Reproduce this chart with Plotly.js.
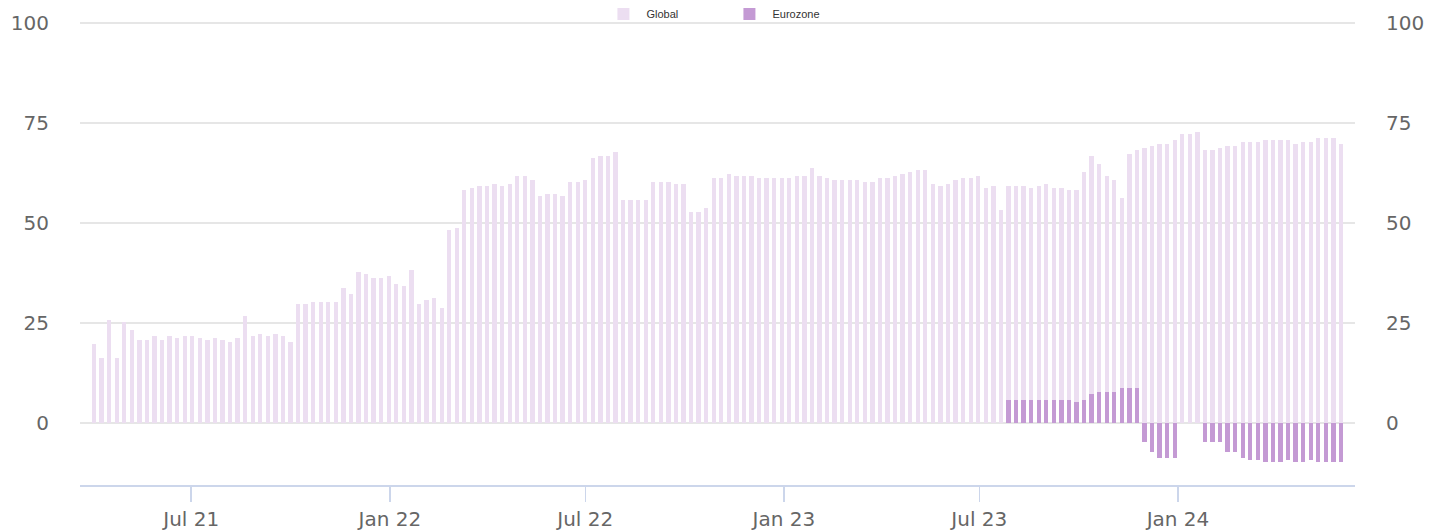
<!DOCTYPE html>
<html>
<head>
<meta charset="utf-8">
<script src="https://cdn.plot.ly/plotly-3.0.1.min.js"></script>
<style>html,body{margin:0;padding:0;background:#fff;}#chart{width:1444px;height:531px;}</style>
</head>
<body>
<div id="chart"></div>
<script>
// Weekly observations, first week ending Fri 2 Apr 2021
const firstWeek = '2021-04-02';
const seriesNames = ['Global', 'Eurozone'];

const globalValues = [
  19.8, 16.3, 25.8, 16.3, 25.3, 23.3, 20.8, 20.8, 21.8, 20.8,
  21.8, 21.3, 21.8, 21.8, 21.3, 20.8, 21.3, 20.8, 20.3, 21.3,
  26.8, 21.8, 22.3, 21.8, 22.3, 21.8, 20.3, 29.8, 29.8, 30.3,
  30.3, 30.3, 30.3, 33.8, 32.3, 37.8, 37.3, 36.3, 36.3, 36.8,
  34.8, 34.3, 38.3, 29.8, 30.8, 31.3, 28.8, 48.3, 48.8, 58.3,
  58.8, 59.3, 59.3, 59.8, 59.3, 59.8, 61.8, 61.8, 60.8, 56.8,
  57.3, 57.3, 56.8, 60.3, 60.3, 60.8, 66.3, 66.8, 66.8, 67.8,
  55.8, 55.8, 55.8, 55.8, 60.3, 60.3, 60.3, 59.8, 59.8, 52.8,
  52.8, 53.8, 61.3, 61.3, 62.3, 61.8, 61.8, 61.8, 61.3, 61.3,
  61.3, 61.3, 61.3, 61.8, 61.8, 63.8, 61.8, 61.3, 60.8, 60.8,
  60.8, 60.8, 60.3, 60.3, 61.3, 61.3, 61.8, 62.3, 62.8, 63.3,
  63.3, 59.8, 59.3, 59.8, 60.8, 61.3, 61.3, 61.8, 58.8, 59.3,
  53.3, 59.3, 59.3, 59.3, 58.8, 59.3, 59.8, 58.8, 58.8, 58.3,
  58.3, 62.8, 66.8, 64.8, 61.8, 60.8, 56.3, 67.3, 68.3, 68.8,
  69.3, 69.8, 69.8, 70.8, 72.3, 72.3, 72.8, 68.3, 68.3, 68.8,
  69.3, 69.3, 70.3, 70.3, 70.3, 70.8, 70.8, 70.8, 70.8, 69.8,
  70.3, 70.3, 71.3, 71.3, 71.3, 69.8
];

const eurozoneValues = [
  null, null, null, null, null, null, null, null, null, null,
  null, null, null, null, null, null, null, null, null, null,
  null, null, null, null, null, null, null, null, null, null,
  null, null, null, null, null, null, null, null, null, null,
  null, null, null, null, null, null, null, null, null, null,
  null, null, null, null, null, null, null, null, null, null,
  null, null, null, null, null, null, null, null, null, null,
  null, null, null, null, null, null, null, null, null, null,
  null, null, null, null, null, null, null, null, null, null,
  null, null, null, null, null, null, null, null, null, null,
  null, null, null, null, null, null, null, null, null, null,
  null, null, null, null, null, null, null, null, null, null,
  null, 5.8, 5.8, 5.8, 5.8, 5.8, 5.8, 5.8, 5.8, 5.8,
  5.3, 5.8, 7.3, 7.8, 7.8, 7.8, 8.8, 8.8, 8.8, -4.8,
  -7.3, -8.8, -8.8, -8.8, null, null, null, -4.8, -4.8, -4.8,
  -7.3, -7.3, -8.8, -9.3, -9.3, -9.8, -9.8, -9.8, -9.3, -9.8,
  -9.8, -9.3, -9.8, -9.8, -9.8, -9.8
];

const yTicks = [0, 25, 50, 75, 100];

const DAY = 86400000;
const start = Date.parse(firstWeek + 'T00:00:00Z');
const weeks = globalValues.map((_, i) => new Date(start + i * 7 * DAY).toISOString().slice(0, 10));

const barWidth = 4.0 * DAY;

const traces = [
  {
    type: 'bar', name: seriesNames[0], x: weeks, y: globalValues,
    width: barWidth, yaxis: 'y',
    marker: {color: '#ecdef1', line: {width: 0}},
    hoverinfo: 'x+y'
  },
  {
    type: 'bar', name: seriesNames[1], x: weeks, y: eurozoneValues,
    width: barWidth, yaxis: 'y2',
    marker: {color: '#c49ad4', line: {width: 0}},
    hoverinfo: 'x+y'
  }
];

const yRange = [-15.5, 100.5];
const axisFont = {family: 'DejaVu Sans, sans-serif', size: 20, color: '#666666'};

const layout = {
  width: 1444, height: 531,
  margin: {l: 80, r: 89, t: 21, b: 46, pad: 0, autoexpand: false},
  paper_bgcolor: '#ffffff', plot_bgcolor: '#ffffff',
  barmode: 'overlay',
  bargap: 0,
  showlegend: true,
  legend: {
    orientation: 'h', xref: 'paper', yref: 'container',
    x: 0.507, xanchor: 'center', y: 0.9736, yanchor: 'middle',
    bgcolor: 'rgba(0,0,0,0)',
    font: {family: 'Liberation Sans, Arial, sans-serif', size: 11, color: '#333333'},
    entrywidth: 75, entrywidthmode: 'pixels',
    itemwidth: 36, tracegroupgap: 0
  },
  xaxis: {
    type: 'date',
    range: ['2021-03-20', '2024-06-13'],
    tick0: '2021-01-01', dtick: 'M6', tickformat: '%b %y',
    showgrid: false, zeroline: false,
    showline: true, linecolor: '#ccd6eb', linewidth: 2,
    ticks: 'outside', ticklen: 15, tickcolor: '#ccd6eb', tickwidth: 1.5,
    tickfont: axisFont
  },
  yaxis: {
    range: yRange, tickvals: yTicks, ticktext: yTicks.map(String),
    showgrid: true, gridcolor: '#e6e6e6', gridwidth: 2,
    zeroline: false, showline: false, ticks: '',
    ticklabelstandoff: 30,
    tickfont: axisFont
  },
  yaxis2: {
    overlaying: 'y', side: 'right', anchor: 'x',
    range: yRange, tickvals: yTicks, ticktext: yTicks.map(String),
    showgrid: false, zeroline: false, showline: false, ticks: '',
    ticklabelstandoff: 30,
    tickfont: axisFont
  }
};

Plotly.newPlot('chart', traces, layout, {displayModeBar: false, staticPlot: true});
</script>
</body>
</html>
